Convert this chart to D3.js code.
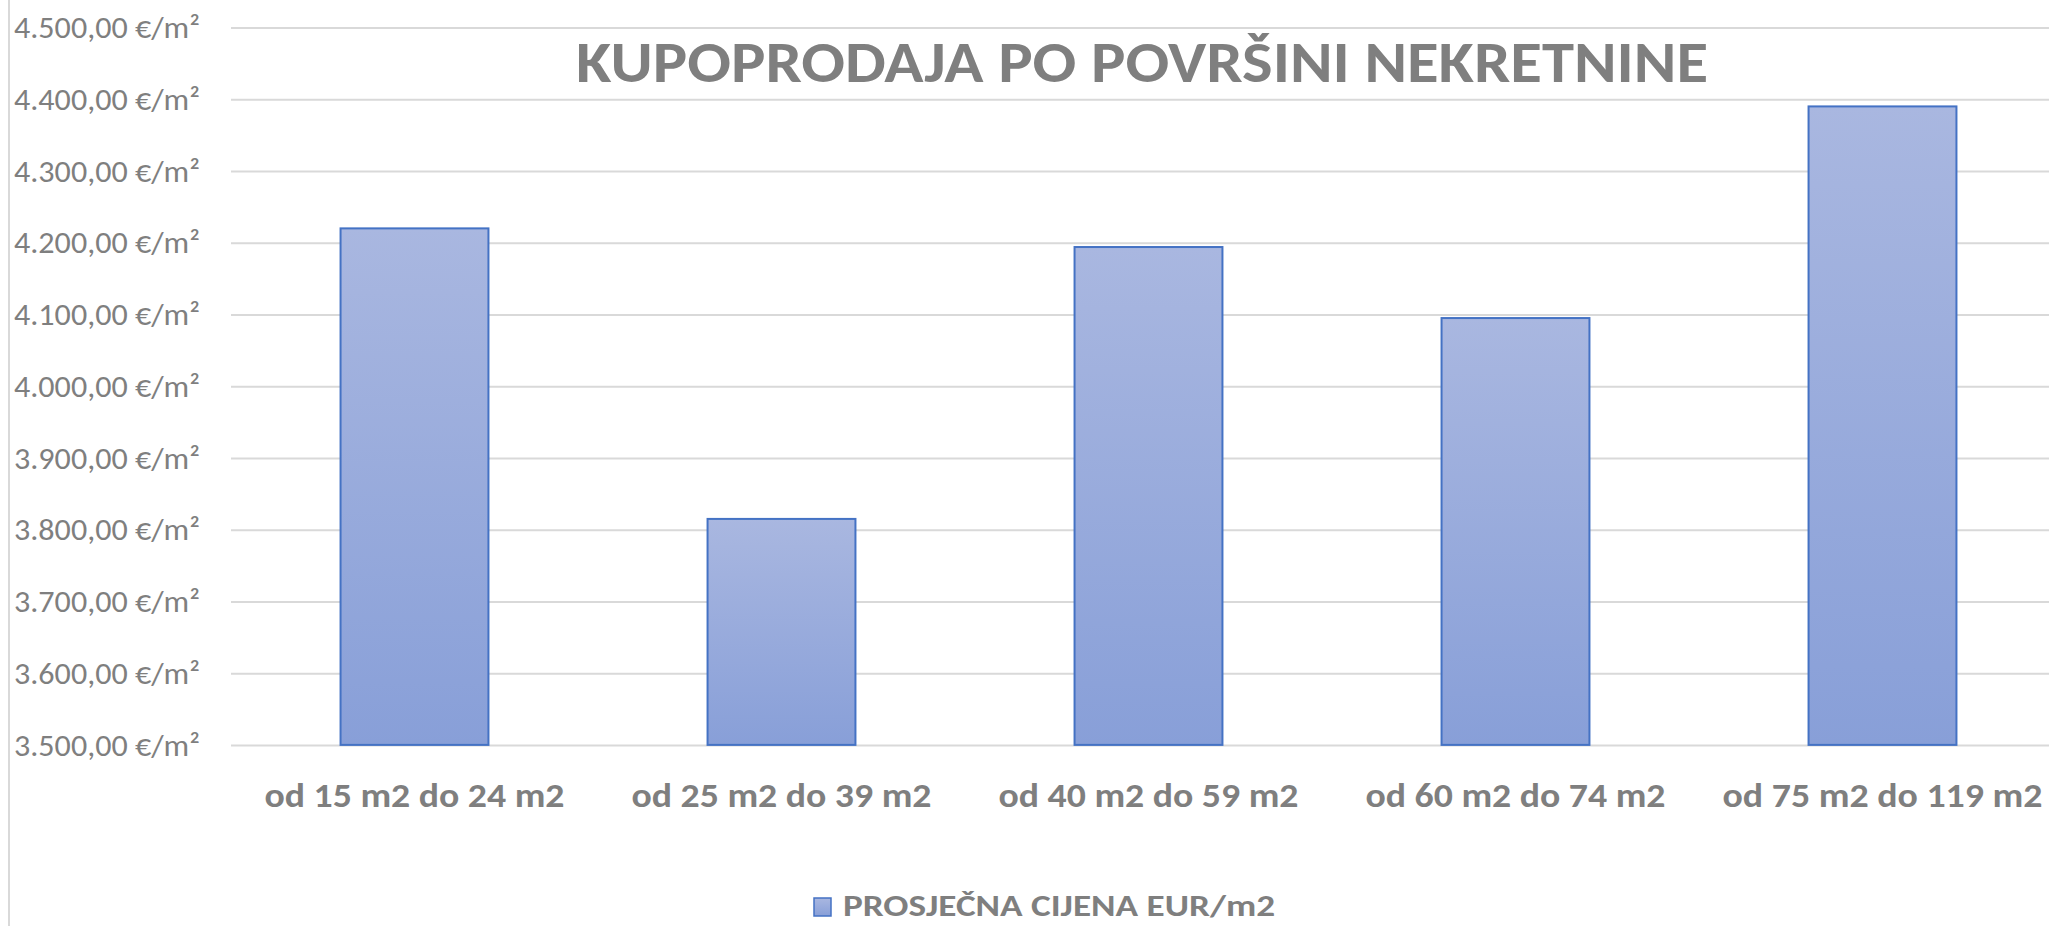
<!DOCTYPE html>
<html>
<head>
<meta charset="utf-8">
<script src="https://cdn.jsdelivr.net/npm/d3@7/dist/d3.min.js"></script>
<style>
  html, body { margin: 0; padding: 0; background: #ffffff; overflow: hidden; }
  svg { display: block; }
  text { font-family: Carlito, Calibri, "Liberation Sans Narrow", "Open Sans", "Liberation Sans", sans-serif; }
</style>
</head>
<body>
<script>
// ---- data ----
const categories = ["od 15 m2 do 24 m2", "od 25 m2 do 39 m2", "od 40 m2 do 59 m2", "od 60 m2 do 74 m2", "od 75 m2 do 119 m2"];
const prices = [4220, 3815, 4194, 4095, 4390];
const yTicks = [3500, 3600, 3700, 3800, 3900, 4000, 4100, 4200, 4300, 4400, 4500];
const titleText = "KUPOPRODAJA PO POVRŠINI NEKRETNINE";
const seriesName = "PROSJEČNA CIJENA EUR/m2";

// ---- layout ----
const W = 2049, H = 926;
const svg = d3.select("body").append("svg").attr("width", W).attr("height", H);

const defs = svg.append("defs");
const grad = defs.append("linearGradient").attr("id", "barGrad")
  .attr("x1", 0).attr("y1", 0).attr("x2", 0).attr("y2", 1);
grad.append("stop").attr("offset", "0%").attr("stop-color", "#A9B7E0");
grad.append("stop").attr("offset", "100%").attr("stop-color", "#889FD8");

const textColor = "#7F7F7F";
const gridColor = "#D9D9D9";

// chart area border (left edge visible)
svg.append("line").attr("x1", 9).attr("x2", 9).attr("y1", 0).attr("y2", H)
  .attr("stroke", gridColor).attr("stroke-width", 2);

const y = d3.scaleLinear().domain([3500, 4500]).range([744.9, 27.5]);
const x = d3.scaleBand().domain(categories).range([231, 2066])
  .paddingInner(0.597).paddingOuter(0.2985);

const loc = d3.formatLocale({ decimal: ",", thousands: ".", grouping: [3], currency: ["", "€"] });
const fmt = loc.format(",.2f");

// gridlines + y labels via axis
const yAxis = d3.axisLeft(y).tickValues(yTicks)
  .tickSize(-(W - 231 + 40)).tickPadding(0)
  .tickFormat(d => fmt(d) + " €/m²");
const gy = svg.append("g").attr("transform", "translate(231,0)").call(yAxis);
gy.select(".domain").remove();
gy.selectAll(".tick line").attr("stroke", gridColor).attr("stroke-width", 2);
gy.selectAll(".tick text")
  .attr("x", -31).attr("dy", "0.34em")
  .attr("fill", textColor).style("font-size", "30px")
  .attr("textLength", 186).attr("lengthAdjust", "spacingAndGlyphs")
  .attr("text-anchor", "end");

// bars
svg.append("g").selectAll("rect").data(prices).join("rect")
  .attr("x", (d, i) => x(categories[i]))
  .attr("width", x.bandwidth())
  .attr("y", d => y(d))
  .attr("height", d => y(3500) - y(d))
  .attr("fill", "url(#barGrad)")
  .attr("stroke", "#4472C4").attr("stroke-width", 2);

// x labels
const xAxis = d3.axisBottom(x).tickSize(0).tickPadding(0);
const gx = svg.append("g").attr("transform", "translate(0,744.9)").call(xAxis);
gx.select(".domain").remove();
gx.selectAll(".tick text")
  .attr("y", 62).attr("dy", 0)
  .attr("fill", textColor).style("font-size", "34px").style("font-weight", "bold")
  .attr("textLength", (d, i) => i === 4 ? 320 : 300).attr("lengthAdjust", "spacingAndGlyphs");

// title
svg.append("text").attr("x", 1142).attr("y", 82)
  .attr("text-anchor", "middle").attr("fill", textColor)
  .style("font-size", "58px").style("font-weight", "bold")
  .attr("textLength", 1132).attr("lengthAdjust", "spacingAndGlyphs")
  .text(titleText);

// legend
const lg = svg.append("g");
lg.append("rect").attr("x", 814).attr("y", 898).attr("width", 17).attr("height", 18)
  .attr("fill", "url(#barGrad)").attr("stroke", "#4472C4").attr("stroke-width", 1.5);
lg.append("text").attr("x", 843).attr("y", 916)
  .attr("fill", textColor).style("font-size", "30px").style("font-weight", "bold")
  .attr("textLength", 432).attr("lengthAdjust", "spacingAndGlyphs")
  .text(seriesName);
</script>
</body>
</html>
